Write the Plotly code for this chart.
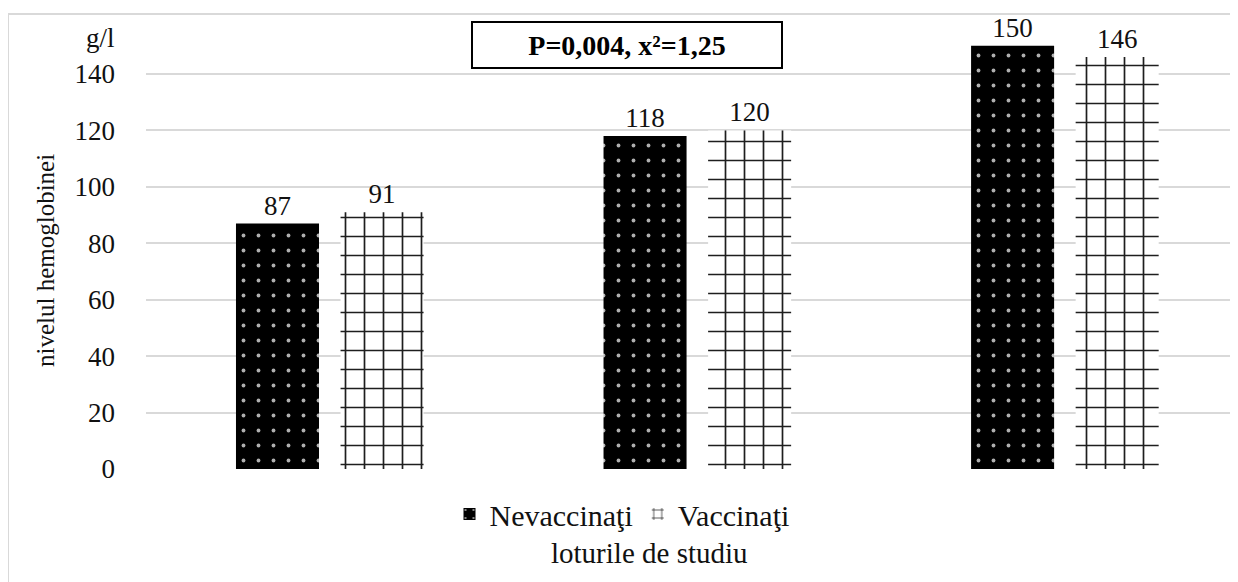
import plotly.graph_objects as go

categories = ["Lotul 1", "Lotul 2", "Lotul 3"]
nevaccinati = [87, 118, 150]
vaccinati = [91, 120, 146]
y_ticks = [0, 20, 40, 60, 80, 100, 120, 140]

FONT = "Liberation Serif, Times New Roman, Tinos, serif"
OFF = 8  # page body margin
W, H = 1230, 574
L, R, T, B = 138, 0, 10, 113
plot_w = W - L - R
plot_h = H - T - B
y_max = plot_h / (395 / 140)

def px(x):
    return (x - OFF - L) / plot_w

def py(y):
    return (H - B - (y - OFF)) / plot_h

fig = go.Figure()
fig.add_trace(go.Bar(
    name="Nevaccinaţi", x=categories, y=nevaccinati,
    text=[str(v) for v in nevaccinati], textposition="outside",
    textfont=dict(family=FONT, size=27, color="#111"),
    marker=dict(color="black", line=dict(width=0),
                pattern=dict(shape=".", fgcolor="#b0b0b0", bgcolor="black",
                             size=15, solidity=0.05, fillmode="replace")),
    cliponaxis=False,
))
fig.add_trace(go.Bar(
    name="Vaccinaţi", x=categories, y=vaccinati,
    text=[str(v) for v in vaccinati], textposition="outside",
    textfont=dict(family=FONT, size=27, color="#111"),
    marker=dict(color="white", line=dict(width=0),
                pattern=dict(shape="+", fgcolor="#1e1e1e", bgcolor="white",
                             size=19, solidity=0.17, fillmode="replace")),
    cliponaxis=False,
))

fig.update_layout(
    width=W, height=H,
    margin=dict(l=L, r=R, t=T, b=B),
    paper_bgcolor="white", plot_bgcolor="white",
    barmode="group", bargap=0.431, bargroupgap=0.206,
    font=dict(family=FONT, size=27, color="#111"),
    showlegend=True,
    legend=dict(orientation="h", x=px(622), y=py(514), xanchor="center", yanchor="middle",
                font=dict(family=FONT, size=30, color="#111"), bgcolor="rgba(0,0,0,0)",
                itemwidth=30),
    xaxis=dict(range=[-0.5, 2.471], showticklabels=False, showgrid=False,
               zeroline=False, showline=False, ticks=""),
    yaxis=dict(range=[0, y_max], tickvals=y_ticks, showgrid=True, gridcolor="#d9d9d9",
               gridwidth=1.5, zeroline=False, showline=False, ticks="",
               ticklabelstandoff=30,
               tickfont=dict(family=FONT, size=27, color="#111")),
)

# outer chart border (left and top visible)
fig.add_shape(type="rect", xref="paper", yref="paper",
              x0=px(8), x1=px(1260), y0=py(620), y1=py(14),
              line=dict(color="#d9d9d9", width=2), fillcolor="rgba(0,0,0,0)", layer="below")

fig.add_annotation(xref="paper", yref="paper", x=px(100), y=py(38), text="g/l",
                   showarrow=False, font=dict(family=FONT, size=27, color="#111"),
                   xanchor="center", yanchor="middle")
fig.add_annotation(xref="paper", yref="paper", x=px(45), y=py(261), text="nivelul hemoglobinei",
                   showarrow=False, textangle=-90, font=dict(family=FONT, size=25, color="#111"),
                   xanchor="center", yanchor="middle")
fig.add_annotation(xref="paper", yref="paper", x=px(649), y=py(553), text="loturile de studiu",
                   showarrow=False, font=dict(family=FONT, size=29, color="#111"),
                   xanchor="center", yanchor="middle")
fig.add_annotation(xref="paper", yref="paper", x=px(627), y=py(45),
                   text="<b>P=0,004, x²=1,25</b>",
                   showarrow=False, font=dict(family=FONT, size=28, color="#000"),
                   xanchor="center", yanchor="middle",
                   bordercolor="black", borderwidth=2, bgcolor="white",
                   width=308, height=44, borderpad=0, align="center", valign="middle")

fig.write_html("out.html")
